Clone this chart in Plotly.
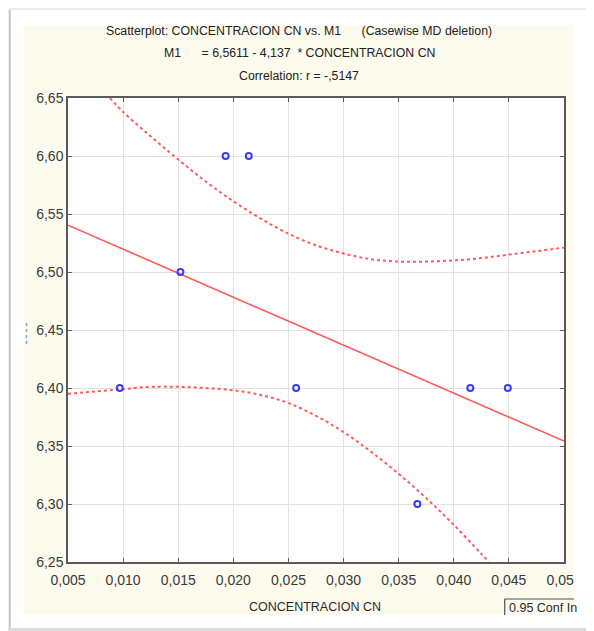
import plotly.graph_objects as go

# ---- data ----
conc = [0.0097, 0.0152, 0.0193, 0.0214, 0.0257, 0.0367, 0.0415, 0.0449]
m1 = [6.40, 6.50, 6.60, 6.60, 6.40, 6.30, 6.40, 6.40]

fit_x = [0.005, 0.050]
fit_y = [6.5404, 6.3542]

upper_x = [0.0088, 0.010, 0.0125, 0.015, 0.0175, 0.020, 0.0225, 0.025, 0.0275,
           0.030, 0.0325, 0.035, 0.0375, 0.040, 0.0425, 0.045, 0.0475, 0.050]
upper_y = [6.650, 6.638, 6.617, 6.597, 6.578, 6.561, 6.546, 6.533, 6.523,
           6.516, 6.511, 6.509, 6.509, 6.510, 6.512, 6.515, 6.518, 6.521]

lower_x = [0.005, 0.0075, 0.010, 0.0125, 0.015, 0.0175, 0.020, 0.0225, 0.025,
           0.0275, 0.030, 0.0325, 0.035, 0.0375, 0.040, 0.0425, 0.0432]
lower_y = [6.395, 6.397, 6.399, 6.401, 6.401, 6.400, 6.398, 6.394, 6.387,
           6.376, 6.362, 6.345, 6.326, 6.305, 6.282, 6.257, 6.250]

x_ticks = [0.005, 0.010, 0.015, 0.020, 0.025, 0.030, 0.035, 0.040, 0.045, 0.050]
y_ticks = [6.25, 6.30, 6.35, 6.40, 6.45, 6.50, 6.55, 6.60, 6.65]

title_lines = [
    "Scatterplot: CONCENTRACION CN vs. M1\u00a0\u00a0\u00a0\u00a0\u00a0\u00a0(Casewise MD deletion)",
    "M1\u00a0\u00a0\u00a0\u00a0\u00a0\u00a0= 6,5611 - 4,137\u00a0\u00a0* CONCENTRACION CN",
    "Correlation: r = -,5147",
]
x_title = "CONCENTRACION CN"
legend_text = "0.95 Conf In"

FONT = "Liberation Sans Narrow, Arial Narrow, Liberation Sans, Arial, sans-serif"
RED = "#ff5a5a"
BLUE = "#3b3bf5"
BEIGE = "#fdfaee"

OFF = 8  # default page body margin
W, H = 594 - OFF, 631 - OFF
L, R, T, B = 60, 24, 90, 69
PW, PH = W - L - R, H - T - B


def px(xs):
    """screen x -> paper x"""
    return (xs - OFF - L) / PW


def py(ys):
    """screen y -> paper y"""
    return (H - B - (ys - OFF)) / PH


fig = go.Figure()
fig.add_trace(go.Scatter(x=upper_x, y=upper_y, mode="lines", line_shape="spline",
                         line=dict(color=RED, width=2, dash="dot"), showlegend=False))
fig.add_trace(go.Scatter(x=lower_x, y=lower_y, mode="lines", line_shape="spline",
                         line=dict(color=RED, width=2, dash="dot"), showlegend=False))
fig.add_trace(go.Scatter(x=fit_x, y=fit_y, mode="lines",
                         line=dict(color=RED, width=1.6), showlegend=False))
fig.add_trace(go.Scatter(x=conc, y=m1, mode="markers",
                         marker=dict(symbol="circle-open", size=6, color=BLUE,
                                     line=dict(width=2, color=BLUE)),
                         showlegend=False))

axis_common = dict(showline=True, linecolor="#5a5a5a", linewidth=1.5, mirror="ticks",
                   ticks="inside", ticklen=4, tickcolor="#5a5a5a",
                   showgrid=True, gridcolor="#e2e2e2", gridwidth=1, zeroline=False,
                   tickfont=dict(family=FONT, size=14, color="#3a3a3a"))

fig.update_xaxes(range=[0.005, 0.050], tickvals=x_ticks, tickformat=".3f",
                 ticklabelstandoff=4, **axis_common)
fig.update_yaxes(range=[6.25, 6.65], tickvals=y_ticks, tickformat=".2f", **axis_common)

shapes = [
    # white surround outside the beige panel
    dict(type="rect", xref="paper", yref="paper", x0=-0.3, x1=px(23), y0=-0.3, y1=1.4,
         fillcolor="white", line_width=0, layer="above"),
    dict(type="rect", xref="paper", yref="paper", x0=px(580), x1=1.3, y0=-0.3, y1=1.4,
         fillcolor="white", line_width=0, layer="above"),
    dict(type="rect", xref="paper", yref="paper", x0=-0.3, x1=1.3, y0=py(25), y1=1.4,
         fillcolor="white", line_width=0, layer="above"),
    dict(type="rect", xref="paper", yref="paper", x0=-0.3, x1=1.3, y0=-0.3, y1=py(615),
         fillcolor="white", line_width=0, layer="above"),
    # window frame
    dict(type="line", xref="paper", yref="paper", x0=px(9), x1=px(9), y0=py(628), y1=py(9),
         line=dict(color="#c4c4c4", width=2), layer="above"),
    dict(type="line", xref="paper", yref="paper", x0=px(9), x1=1.3, y0=py(9), y1=py(9),
         line=dict(color="#ececec", width=2), layer="above"),
    dict(type="rect", xref="paper", yref="paper", x0=-0.3, x1=1.3, y0=-0.3, y1=py(628),
         fillcolor="#dcdcdc", line_width=0, layer="above"),
    # legend box fragment
    dict(type="line", xref="paper", yref="paper", x0=px(510), x1=px(510), y0=py(615), y1=py(599),
         line=dict(color="#505050", width=1.2), layer="above"),
    dict(type="line", xref="paper", yref="paper", x0=px(510), x1=px(580), y0=py(599), y1=py(599),
         line=dict(color="#505050", width=1.2), layer="above"),
    # truncated y-axis title remnant
    dict(type="line", xref="paper", yref="paper", x0=px(26), x1=px(26), y0=py(344), y1=py(320),
         line=dict(color="#7aaad8", width=1.5, dash="dot"), layer="above"),
]

annotations = []
for txt, yc in zip(title_lines, [31, 53, 76]):
    annotations.append(dict(text=txt, xref="paper", yref="paper", x=px(302), y=py(yc),
                            xanchor="center", yanchor="middle", showarrow=False,
                            font=dict(family=FONT, size=12.3, color="#222222")))
annotations.append(dict(text=x_title, xref="paper", yref="paper", x=px(318), y=py(607),
                        xanchor="center", yanchor="middle", showarrow=False,
                        font=dict(family=FONT, size=12.5, color="#2a2a2a")))
annotations.append(dict(text=legend_text, xref="paper", yref="paper", x=px(512), y=py(608),
                        xanchor="left", yanchor="middle", showarrow=False,
                        font=dict(family=FONT, size=12.5, color="#2a2a2a")))

fig.update_layout(width=W, height=H, margin=dict(l=L, r=R, t=T, b=B),
                  paper_bgcolor=BEIGE, plot_bgcolor="white",
                  separators=",.", shapes=shapes, annotations=annotations,
                  showlegend=False)

fig.write_html("out.html")
